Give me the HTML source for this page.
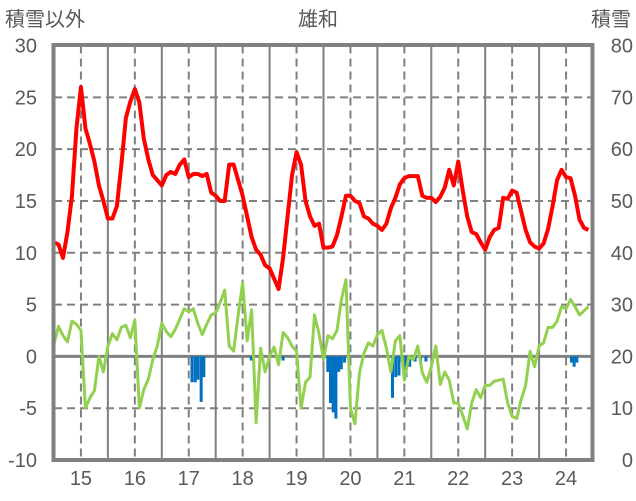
<!DOCTYPE html>
<html><head><meta charset="utf-8"><style>
body{margin:0;background:#fff;}
svg{display:block;font-family:"Liberation Sans","Noto Sans CJK JP",sans-serif;}
</style></head><body>
<svg id="chart" width="636" height="501" viewBox="0 0 636 501" xmlns="http://www.w3.org/2000/svg">
<text x="5" y="26" font-size="20" fill="#595959">積雪以外</text>
<text x="318" y="26" font-size="20" fill="#595959" text-anchor="middle">雄和</text>
<text x="631" y="26" font-size="20" fill="#595959" text-anchor="end">積雪</text>
<g id="grid"></g><g id="marks"></g><g id="labels"></g>
<rect x="53.5" y="45" width="539" height="415" fill="none" stroke="#808080" stroke-width="4"/>
</svg>
<script>
const years=["15","16","17","18","19","20","21","22","23","24"];
const leftTicks=[30,25,20,15,10,5,0,-5,-10];
const rightTicks=[80,70,60,50,40,30,20,10,0];
const redVals=[11,10.8,9.5,12,15.5,22,26,22,20.5,18.8,16.5,15,
13.3,13.3,14.5,18.5,23,24.6,25.8,24.5,21,19,17.5,17,
16.5,17.5,17.8,17.6,18.5,19,17.3,17.6,17.6,17.4,17.6,15.8,
15.5,15,15,18.5,18.5,17,15.5,13.5,11.5,10.3,9.8,8.8,
8.5,7.5,6.5,9.5,13.5,17.5,19.7,18.5,15,13.5,12.6,12.8,
10.5,10.5,10.6,11.7,13.5,15.5,15.5,15,14.8,13.5,13.3,12.8,
12.6,12.2,12.8,14.3,15.3,16.6,17.2,17.4,17.4,17.4,15.5,15.3,
15.3,14.9,15.4,16.3,18,16.5,18.8,16,13.5,12,11.8,11,
10.3,11.5,12.2,12.4,15.3,15.2,16,15.8,14,12.2,11,10.6,
10.4,10.9,12.3,14.5,17,18,17.3,17.2,15.5,13.2,12.4,12.2];
const greenVals=[1.2,2.9,2,1.4,3.4,3.1,2.5,-5,-4,-3.3,0,-1.5,
1,2.2,1.6,2.8,3,1.8,3.5,-5,-3.2,-2.2,-0.3,1,
3.2,2.4,1.9,2.6,3.6,4.6,4.3,4.6,3.2,2.1,3.1,4,
4.2,5.2,6.4,1,0.5,4,7.1,1.5,4.5,-6.4,0.8,-1.5,
0,0.9,-0.8,2.3,1.8,1,0.5,-5,-2.5,-2,4,2.2,
-0.3,2,1.7,2.5,5.5,7.4,-5,-6.5,-1.6,0.3,1.3,1,
2.1,2.5,0.8,-1.5,1.5,2,-2.3,0,-0.3,1,-1.6,-2.5,
-1,1,-2.7,-1.5,-2.3,-4.5,-4.5,-5.7,-7,-4.5,-3.2,-4,
-2.8,-2.8,-2.4,-2.3,-2.2,-4.5,-5.8,-6,-4.2,-2.8,0.5,-1,
1,1.3,2.8,2.8,3.4,4.8,4.6,5.5,4.8,4,4.4,4.8];
const snowT=[2.56,2.62,2.67,2.73,2.78,3.66,4.25,5.08,5.13,5.18,5.23,5.28,5.33,5.39,6.28,6.34,6.4,6.46,6.53,6.6,6.7,6.8,6.9,9.6,9.65,9.7];
const snowV=[5,5,4.5,8.8,4,0.8,0.8,3,9,10.8,12,3,2.5,1.2,8,4,3.7,1,4,2,1,1,1,1.2,2,1.2];
const NS="http://www.w3.org/2000/svg";
const X0=54,X1=593,Y0=45.5,Y1=460;
const x=t=>X0+(X1-X0)*t/10;
const yL=v=>Y1-(v+10)/40*(Y1-Y0);
const snowPx=v=>v/80*(Y1-Y0);
function mk(tag,attrs,parent){const e=document.createElementNS(NS,tag);for(const k in attrs)e.setAttribute(k,attrs[k]);document.getElementById(parent).appendChild(e);return e;}
// horizontal grid
leftTicks.forEach((v,i)=>{
  if(v!==30&&v!==-10&&v!==0){const l=mk('line',{x1:X0,x2:X1,y1:yL(v),y2:yL(v),stroke:'#808080','stroke-width':2,'stroke-dasharray':'8,5'},'grid');
  
  }
  const t=mk('text',{x:37,y:yL(v)+7,'font-size':20,fill:'#595959','text-anchor':'end'},'labels');t.textContent=v;
  
  
  const r=mk('text',{x:633,y:yL(v)+7,'font-size':20,fill:'#595959','text-anchor':'end'},'labels');r.textContent=rightTicks[i];
  
  
});
years.forEach((yr,i)=>{
  if(i>0){const s=mk('line',{x1:x(i),x2:x(i),y1:Y0,y2:Y1,stroke:'#808080','stroke-width':2},'grid');
  
  }
  const d=mk('line',{x1:x(i+0.5),x2:x(i+0.5),y1:Y0,y2:Y1,stroke:'#808080','stroke-width':2,'stroke-dasharray':'8,5'},'grid');
  
  
  const t=mk('text',{x:x(i+0.5),y:485,'font-size':20,fill:'#595959','text-anchor':'middle'},'labels');t.textContent=yr;
  
  
});
const z=mk('line',{x1:X0,x2:X1,y1:yL(0),y2:yL(0),stroke:'#808080','stroke-width':3},'grid');


snowT.forEach((t,i)=>{
  const b=mk('rect',{x:x(t)-1.5,y:yL(0),width:3,height:snowPx(snowV[i]),fill:'#0070c0'},'marks');
  
  
});
function line(vals,color,w,name){
  const pts=vals.map((v,i)=>x(i/12)+','+yL(v)).join(' ');
  const p=mk('polyline',{points:pts,fill:'none',stroke:color,'stroke-width':w,'stroke-linejoin':'round'},'marks');
  
  
}
line(greenVals,'#92d050',3,'green-series-line');
line(redVals,'#ff0000',4,'red-series-line');
</script>
</body></html>
